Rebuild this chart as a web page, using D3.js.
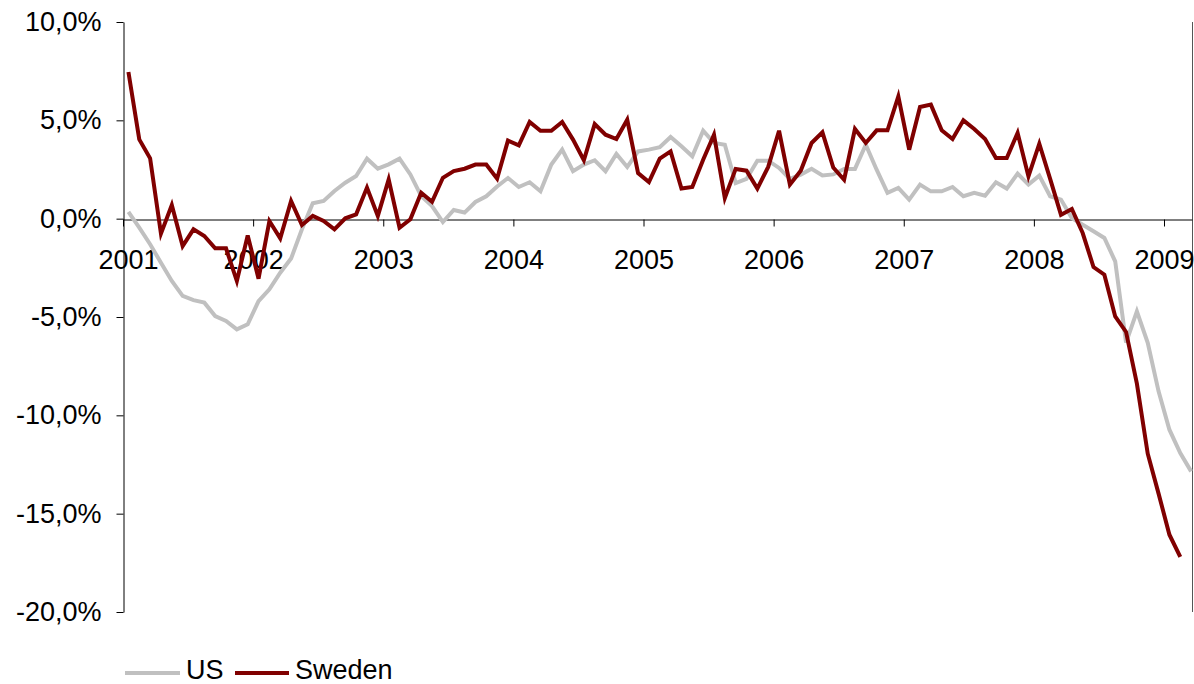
<!DOCTYPE html>
<html>
<head>
<meta charset="utf-8">
<script src="https://cdn.jsdelivr.net/npm/d3@7"></script>
<style>
  html, body { margin: 0; padding: 0; background: #fff; }
  svg { display: block; font-family: "Liberation Sans", Arial, sans-serif; }
</style>
</head>
<body>
<svg id="chart" width="1194" height="684"></svg>
<script>
// Monthly data, Jan 2001 onwards (percent)
const startYear = 2001;
const yearTicks = [2001, 2002, 2003, 2004, 2005, 2006, 2007, 2008, 2009];
const yTicks = [-20, -15, -10, -5, 0, 5, 10];
const seriesNames = ["US", "Sweden"];
const seriesColors = ["#c0c0c0", "#800000"];

const usValues = [
  0.34, -0.46, -1.3, -2.24, -3.17, -3.93, -4.14, -4.27, -4.95, -5.2, -5.63, -5.37,
  -4.19, -3.59, -2.75, -2.03, -0.54, 0.78, 0.9, 1.41, 1.83, 2.17, 3.05, 2.54,
  2.76, 3.05, 2.25, 1.15, 0.64, -0.17, 0.44, 0.31, 0.85, 1.14, 1.64, 2.07,
  1.61, 1.85, 1.39, 2.75, 3.51, 2.41, 2.75, 2.97, 2.41, 3.29, 2.63, 3.42,
  3.51, 3.63, 4.15, 3.68, 3.17, 4.47, 3.85, 3.76, 1.81, 2.02, 2.95, 2.95,
  2.58, 2.02, 2.24, 2.54, 2.2, 2.25, 2.53, 2.53, 3.76, 2.49, 1.31, 1.56,
  0.97, 1.73, 1.39, 1.39, 1.61, 1.14, 1.31, 1.17, 1.85, 1.53, 2.29, 1.73,
  2.19, 1.14, 0.97, 0.03, -0.31, -0.64, -0.98, -2.17, -6.3, -4.71, -6.31, -8.78,
  -10.73, -11.92, -12.85
];

const swedenValues = [
  7.46, 4.03, 3.07, -0.76, 0.69, -1.39, -0.54, -0.88, -1.51, -1.51, -3.17, -0.85,
  -3.05, -0.12, -1.0, 0.9, -0.32, 0.14, -0.12, -0.54, 0.02, 0.22, 1.58, 0.14,
  2.0, -0.46, -0.03, 1.32, 0.86, 2.08, 2.42, 2.54, 2.75, 2.75, 2.03, 3.97,
  3.73, 4.92, 4.47, 4.47, 4.92, 4.02, 2.97, 4.81, 4.27, 4.05, 5.03, 2.32,
  1.86, 3.05, 3.42, 1.53, 1.61, 3.0, 4.27, 1.05, 2.53, 2.44, 1.53, 2.63,
  4.47, 1.73, 2.44, 3.85, 4.39, 2.6, 1.98, 4.56, 3.85, 4.49, 4.49, 6.22,
  3.51, 5.68, 5.8, 4.49, 4.05, 5.0, 4.56, 4.05, 3.08, 3.08, 4.36, 2.15,
  3.81, 2.02, 0.2, 0.49, -0.73, -2.46, -2.85, -4.97, -5.76, -8.39, -11.95, -13.98,
  -16.07, -17.2
];

const svg = d3.select("#chart");
const plotLeft = 123, plotRight = 1192, plotTop = 22, plotBottom = 612;
const pxPerYear = 130.125;

const x = d3.scaleLinear()
  .domain([startYear, startYear + (plotRight - plotLeft) / pxPerYear])
  .range([plotLeft, plotRight]);
const y = d3.scaleLinear().domain([-20, 10]).range([plotBottom, plotTop]);

const fontSize = 27;

// right border of plot area
svg.append("line")
  .attr("x1", plotRight + 0.5).attr("x2", plotRight + 0.5)
  .attr("y1", plotTop).attr("y2", plotBottom)
  .attr("stroke", "#555").attr("stroke-width", 1);

// Y axis
const yAxis = d3.axisLeft(y)
  .tickValues(yTicks)
  .tickSize(7)
  .tickSizeOuter(0)
  .tickPadding(15)
  .tickFormat(d => d.toFixed(1).replace(".", ",") + "%");
const gy = svg.append("g").attr("transform", `translate(${plotLeft + 0.5},0)`).call(yAxis);
gy.selectAll("text").attr("font-size", fontSize).attr("font-family", "Liberation Sans, Arial, sans-serif").attr("fill", "#000");
gy.selectAll("line, path").attr("stroke", "#000");

// X axis at zero
const xAxis = d3.axisBottom(x)
  .tickValues(yearTicks)
  .tickSize(7)
  .tickSizeOuter(0)
  .tickFormat(d3.format("d"));
const gx = svg.append("g").attr("transform", `translate(0,${Math.round(y(0)) + 0.5})`).call(xAxis);
gx.selectAll("text")
  .attr("font-size", fontSize)
  .attr("font-family", "Liberation Sans, Arial, sans-serif")
  .attr("fill", "#000")
  .attr("dy", null)
  .attr("y", 49)
  .attr("x", d => d === startYear ? 5 : 0);
gx.selectAll("line, path").attr("stroke", "#000");

// Lines
const line = d3.line()
  .x((d, i) => x(startYear + (i + 0.5) / 12))
  .y(d => y(d));

const allSeries = [usValues, swedenValues];
allSeries.forEach((vals, k) => {
  svg.append("path")
    .datum(vals)
    .attr("fill", "none")
    .attr("stroke", seriesColors[k])
    .attr("stroke-width", 4)
    .attr("stroke-linejoin", "miter")
    .attr("d", line);
});

// Legend
const legendItems = [
  { x0: 125, x1: 180, tx: 186 },
  { x0: 235, x1: 289, tx: 295 }
];
legendItems.forEach((it, k) => {
  svg.append("line")
    .attr("x1", it.x0).attr("x2", it.x1)
    .attr("y1", 673).attr("y2", 673)
    .attr("stroke", seriesColors[k]).attr("stroke-width", 4);
  svg.append("text")
    .attr("x", it.tx).attr("y", 679)
    .attr("font-size", fontSize)
    .attr("fill", "#000")
    .text(seriesNames[k]);
});
</script>
</body>
</html>
